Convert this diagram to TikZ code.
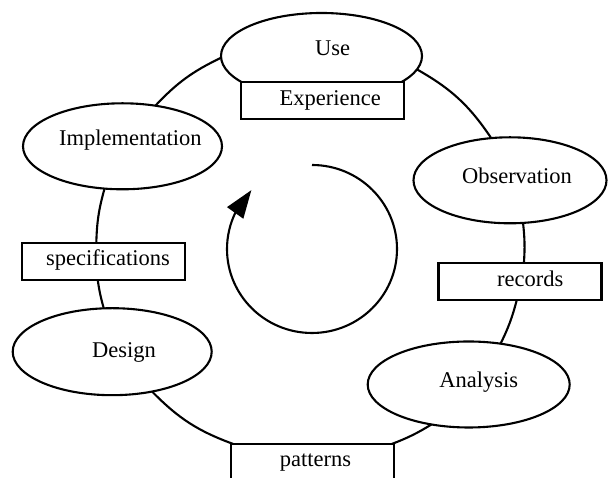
\documentclass[tikz,border=0pt]{standalone}
\usepackage{fontspec}
\setmainfont{Liberation Serif}
\usetikzlibrary{shapes.geometric,arrows.meta,bending}
\begin{document}
\begin{tikzpicture}[x=1pt,y=1pt,
  line width=2.1pt,
  font=\fontsize{22.5}{27}\selectfont,
  stage/.style={ellipse, draw, fill=white, minimum width=199pt,
    minimum height=86pt, inner sep=0pt, outer sep=0pt},
  item/.style={rectangle, draw, fill=white, minimum width=163pt,
    minimum height=36.5pt, inner sep=0pt, outer sep=0pt},
  % zero-height text box: the label's centre sits on its baseline
  lbl/.style={inner sep=0pt, text height=0pt, text depth=0pt}
]
\useasboundingbox (0,0) rectangle (608,478);
\clip (0,0) rectangle (608,478);

% stages of the cycle and the products passed between them
\node[stage, minimum width=201pt,
  label={[lbl,xshift=11.2pt]center:Use}] (use) at (321.5,422) {};
\node[item,
  label={[lbl,xshift=7.8pt,yshift=-5.5pt]center:Experience}] (exp) at (322.5,377.5) {};
\node[stage,
  label={[lbl,xshift=7.8pt,yshift=0.3pt]center:Implementation}] (impl) at (122.5,331.7) {};
\node[stage, minimum width=193pt,
  label={[lbl,xshift=7pt,yshift=-3pt]center:Observation}] (obs) at (510,297.7) {};
\node[item,
  label={[lbl,xshift=10.2pt,yshift=-5pt]center:records}] (rec) at (520,196.3) {};
\node[stage, minimum width=202pt,
  label={[lbl,xshift=10.1pt,yshift=-2.8pt]center:Analysis}] (ana) at (468.7,93.5) {};
\node[item,
  label={[lbl,xshift=3pt,yshift=-4.4pt]center:patterns}] (pat) at (312.5,15.7) {};
\node[stage, minimum height=87pt,
  label={[lbl,xshift=11.8pt,yshift=-5.6pt]center:Design}] (des) at (112.2,126.3) {};
\node[item,
  label={[lbl,xshift=4.7pt,yshift=-4.3pt]center:specifications}] (spec) at (103.3,216.3) {};

% arcs of the outer cycle, clockwise
\draw (use.352.3) to[bend left=13.25] (obs.114.6);
\draw (obs.287.8) to[bend left=5.15] (rec.78.1);
\draw (rec.260.1) to[bend left=5.7] (ana.52.2);
\draw (ana.227) to[bend left=5.3] (pat.13);
\draw (pat.167.5) to[bend left=12.65] (des.315);
\draw (des.101.3) to[bend left=3.6] (spec.253.8);
\draw (spec.111.4) to[bend left=7.05] (impl.247.1);
\draw (impl.51.6) to[bend left=10.5] (use.181.8);

% circular arrow in the middle
\coordinate (ringtop) at (312,313);
\draw[-{Triangle[length=28pt,width=19.5pt,flex]}]
  (ringtop) arc[start angle=90, end angle=-224.5, x radius=85, y radius=84];
\end{tikzpicture}
\end{document}
